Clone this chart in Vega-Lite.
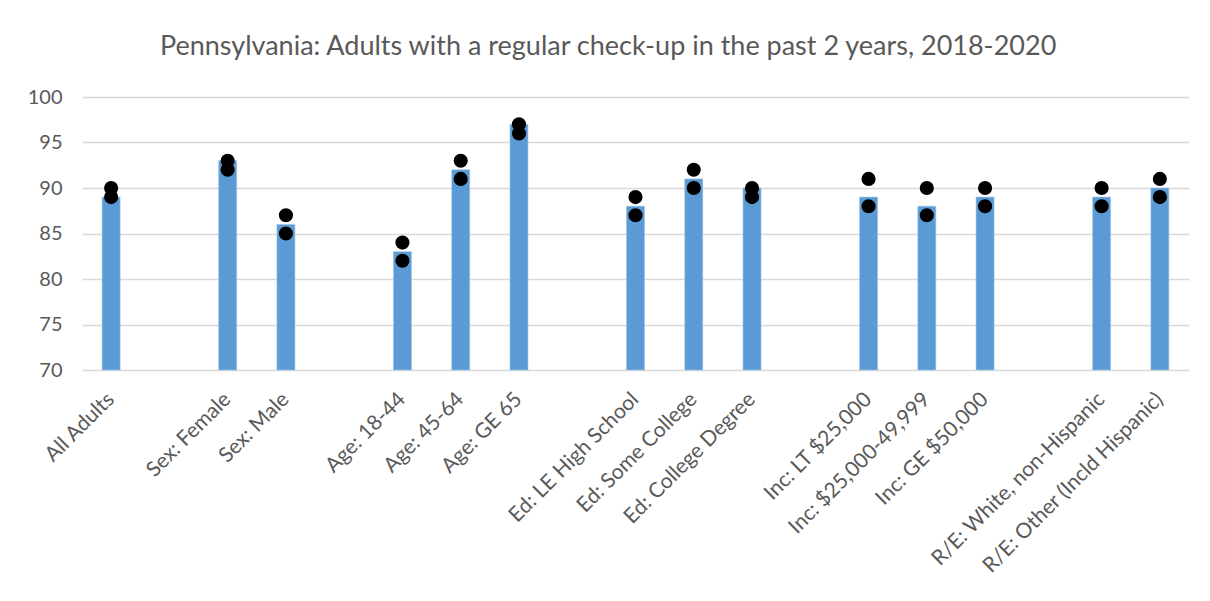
{
  "$schema": "https://vega.github.io/schema/vega-lite/v6.json",
  "width": 1107,
  "height": 273,
  "padding": {"left": 27, "top": 33, "right": 12, "bottom": 0},
  "background": "white",
  "title": {
    "text": "Pennsylvania: Adults with a regular check-up in the past 2 years, 2018-2020",
    "font": "Lato",
    "fontSize": 27,
    "fontWeight": "normal",
    "color": "#595959",
    "anchor": "middle",
    "frame": "bounds",
    "offset": 26
  },
  "data": {
    "values": [
      {"group": "All Adults", "pct": 89, "upper": 90, "lower": 89},
      {"group": "Sex: Female", "pct": 93, "upper": 93, "lower": 92},
      {"group": "Sex: Male", "pct": 86, "upper": 87, "lower": 85},
      {"group": "Age: 18-44", "pct": 83, "upper": 84, "lower": 82},
      {"group": "Age: 45-64", "pct": 92, "upper": 93, "lower": 91},
      {"group": "Age: GE 65", "pct": 97, "upper": 97, "lower": 96},
      {"group": "Ed: LE High School", "pct": 88, "upper": 89, "lower": 87},
      {"group": "Ed: Some College", "pct": 91, "upper": 92, "lower": 90},
      {"group": "Ed: College Degree", "pct": 90, "upper": 90, "lower": 89},
      {"group": "Inc: LT $25,000", "pct": 89, "upper": 91, "lower": 88},
      {"group": "Inc: $25,000-49,999", "pct": 88, "upper": 90, "lower": 87},
      {"group": "Inc: GE $50,000", "pct": 89, "upper": 90, "lower": 88},
      {"group": "R/E: White, non-Hispanic", "pct": 89, "upper": 90, "lower": 88},
      {"group": "R/E: Other (Incld Hispanic)", "pct": 90, "upper": 91, "lower": 89}
    ]
  },
  "encoding": {
    "x": {
      "field": "group",
      "type": "nominal",
      "title": null,
      "scale": {
        "domain": [
          "All Adults", " ",
          "Sex: Female", "Sex: Male", "  ",
          "Age: 18-44", "Age: 45-64", "Age: GE 65", "   ",
          "Ed: LE High School", "Ed: Some College", "Ed: College Degree", "    ",
          "Inc: LT $25,000", "Inc: $25,000-49,999", "Inc: GE $50,000", "     ",
          "R/E: White, non-Hispanic", "R/E: Other (Incld Hispanic)"
        ],
        "paddingInner": 0,
        "paddingOuter": 0
      },
      "axis": {
        "domain": false,
        "ticks": false,
        "grid": false,
        "labelAngle": -45,
        "labelAlign": "right",
        "labelBaseline": "middle",
        "labelPadding": 26,
        "labelDx": -3,
        "labelFont": "Lato",
        "labelFontSize": 21,
        "labelColor": "#595959",
        "labelOverlap": false,
        "labelLimit": 400
      }
    }
  },
  "layer": [
    {
      "mark": {"type": "bar", "size": 18, "color": "#5B9BD5", "stroke": "#9DC3E6", "strokeWidth": 0.6},
      "encoding": {
        "y": {
          "field": "pct",
          "type": "quantitative",
          "title": null,
          "scale": {"domain": [70, 100], "zero": false, "nice": false},
          "axis": {
            "values": [70, 75, 80, 85, 90, 95, 100],
            "domain": false,
            "ticks": false,
            "grid": true,
            "gridColor": "#d9d9d9",
            "gridWidth": 1.5,
            "labelPadding": 20,
            "labelFont": "Lato",
            "labelFontSize": 20,
            "labelColor": "#595959"
          }
        },
        "y2": {"datum": 70}
      }
    },
    {
      "mark": {"type": "circle", "size": 200, "color": "black", "opacity": 1},
      "encoding": {"y": {"field": "upper", "type": "quantitative"}}
    },
    {
      "mark": {"type": "circle", "size": 200, "color": "black", "opacity": 1},
      "encoding": {"y": {"field": "lower", "type": "quantitative"}}
    }
  ],
  "config": {"view": {"stroke": null}}
}
